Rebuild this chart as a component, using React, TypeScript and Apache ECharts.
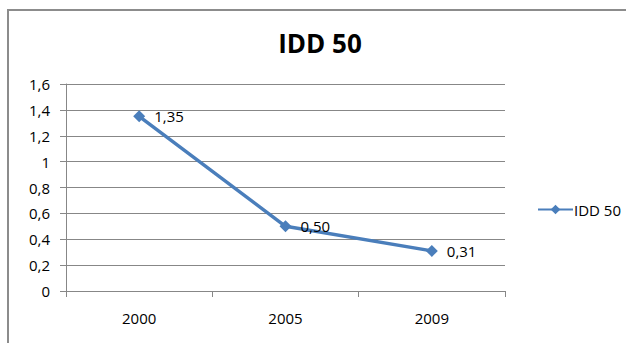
import React, { useEffect, useRef } from "react";
import * as echarts from "echarts";

const categories = ["2000", "2005", "2009"];
const seriesName = "IDD 50";
const values = [1.35, 0.5, 0.31];
const titleText = "IDD 50";

const FONT = "'Open Sans', sans-serif";
const BLUE = "#4A7EBB";
const GRID = "#878787";

export default function App() {
  const ref = useRef<HTMLDivElement>(null);
  useEffect(() => {
    if (!ref.current) return;
    document.documentElement.style.overflow = "hidden";
    document.body.style.overflow = "hidden";
    document.body.style.margin = "0";
    const chart = echarts.init(ref.current, null, { renderer: "svg" });
    chart.setOption({
      animation: false,
      title: {
        text: titleText,
        left: 315,
        textAlign: "center",
        top: 25,
        textStyle: { fontFamily: FONT, fontSize: 26, fontWeight: "bold", color: "#000" },
      },
      legend: {
        left: 532,
        top: 197,
        itemWidth: 35,
        itemHeight: 12,
        itemGap: 4,
        textStyle: { fontFamily: FONT, fontSize: 15, color: "#000", padding: [0, 0, 0, -4] },
        data: [seriesName],
      },
      grid: { left: 66, right: 121, top: 84, bottom: 52, containLabel: false },
      xAxis: {
        type: "category",
        data: categories,
        boundaryGap: true,
        axisLine: { lineStyle: { color: GRID, width: 1 } },
        axisTick: { show: true, length: 6, lineStyle: { color: GRID } },
        axisLabel: { fontFamily: FONT, fontSize: 15, color: "#000", margin: 19 },
        splitLine: { show: false },
      },
      yAxis: {
        type: "value",
        min: 0,
        max: 1.6,
        interval: 0.2,
        axisLine: { show: true, lineStyle: { color: GRID, width: 1 } },
        axisTick: { show: true, length: 6, lineStyle: { color: GRID } },
        axisLabel: {
          fontFamily: FONT,
          fontSize: 15,
          color: "#000",
          margin: 16,
          formatter: (v: number) => String(Number(v.toFixed(1))).replace(".", ","),
        },
        splitLine: { show: true, lineStyle: { color: GRID, width: 1 } },
      },
      series: [
        {
          name: seriesName,
          type: "line",
          data: values,
          symbol: "diamond",
          symbolSize: 12,
          lineStyle: { color: BLUE, width: 3.5 },
          itemStyle: { color: BLUE },
          label: {
            show: true,
            position: "right",
            distance: 9,
            fontFamily: FONT,
            fontSize: 15,
            color: "#000",
            formatter: (p: any) => Number(p.value).toFixed(2).replace(".", ","),
          },
        },
      ],
    });
    return () => chart.dispose();
  }, []);
  return (
    <div style={{ position: "absolute", left: 0, top: 0, width: 626, height: 343, background: "#fff", overflow: "hidden" }}>
      <div
        style={{
          position: "absolute",
          left: 7,
          top: 9,
          width: 700,
          height: 400,
          borderLeft: "2px solid #8c8c8c",
          borderTop: "2px solid #8c8c8c",
        }}
      />
      <div
        ref={ref}
        style={{ position: "absolute", left: 0, top: 0, width: 626, height: 343 }}
      />
    </div>
  );
}
